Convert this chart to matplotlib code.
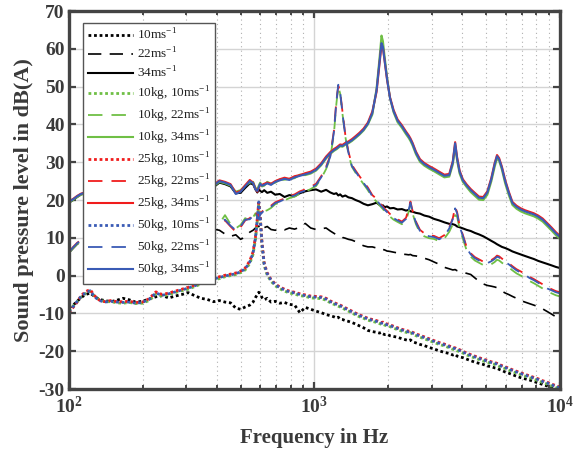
import numpy as np
import matplotlib
matplotlib.use('Agg')
import matplotlib.pyplot as plt
from matplotlib.ticker import FixedLocator, NullFormatter

# frequency bins (Hz)
freq = [100, 104, 108, 112, 117, 122, 127, 133, 140, 148, 157, 166, 176, 187, 199, 212,
        226, 240, 255, 271, 288, 306, 325, 345, 366, 388,
        410, 432, 455, 478, 500, 522, 545, 562, 575, 585, 593, 601, 611, 624, 642, 665,
        692, 722, 755, 790, 830, 872, 917, 965,
        1015, 1065, 1115, 1160, 1200, 1228, 1250, 1272, 1300, 1335, 1375, 1420, 1470, 1525,
        1585, 1650, 1720, 1790, 1840, 1875, 1900, 1930, 1975, 2030, 2100, 2180, 2270, 2360,
        2420, 2460, 2510, 2590, 2690, 2800, 2930, 3070, 3220, 3380, 3540, 3660, 3740, 3810,
        3900, 4020, 4170, 4330, 4500, 4680, 4870, 5060, 5250, 5420, 5540, 5650, 5800, 5980,
        6180, 6400, 6650, 6920, 7200, 7500, 7820, 8150, 8500, 8870, 9250, 9620, 10000]

# no load, dB(A)
spl_10 = [-8.5, -7.8, -6.8, -5.8, -5.0, -4.6, -5.5, -6.3, -6.6, -6.9, -6.5, -6.0, -6.4, -7.0, -6.8, -6.2,
          -5.6, -5.3, -5.9, -5.4, -5.0, -4.5, -5.3, -6.0, -6.3, -6.9,
          -6.6, -7.0, -7.2, -8.6, -8.9, -8.3, -7.8, -7.0, -5.8, -5.0, -4.4, -4.8, -5.8, -6.4, -6.0, -7.0,
          -6.8, -7.3, -7.1, -7.6, -7.8, -9.8, -8.4, -8.9,
          -9.4, -9.8, -10.3, -10.6, -10.9, -11.2, -11.0, -11.5, -11.6, -11.9, -12.1, -12.4, -12.8, -13.3,
          -13.8, -14.5, -14.8, -15.0, -15.2, -15.0, -15.4, -15.6, -15.5, -15.9, -16.1, -16.3, -16.7, -17.0,
          -17.2, -17.0, -17.5, -17.8, -18.2, -18.5, -19.0, -19.4, -19.9, -20.3, -20.6, -21.0, -20.8, -21.3,
          -21.5, -21.7, -22.1, -22.5, -22.9, -23.2, -23.5, -23.9, -24.1, -24.4, -24.5, -24.8, -25.1, -25.5,
          -25.8, -26.2, -26.6, -27.0, -27.3, -27.6, -28.0, -28.4, -28.8, -29.2, -29.6, -29.9, -30.3]

spl_22 = [6.0, 7.2, 8.3, 9.0, 9.4, 9.8, 9.6, 10.0, 10.4, 10.1, 10.6, 11.0, 10.7, 11.2, 11.5, 11.3,
          11.8, 12.0, 11.6, 12.2, 12.5, 12.0, 12.4, 12.0, 12.5, 12.3,
          12.0, 11.0, 10.4, 10.8, 9.6, 10.2, 11.5, 12.0, 12.6, 13.2, 13.0, 12.6, 13.4, 12.7, 13.0, 12.2,
          12.0, 12.4, 12.1, 12.6, 12.3, 12.8, 13.8, 12.6,
          12.2, 12.4, 12.6, 11.8, 11.2, 10.8, 10.5, 10.6, 10.1, 9.9, 9.6, 9.4, 9.0, 8.4,
          7.9, 7.6, 7.6, 7.3, 7.1, 7.2, 6.9, 6.8, 6.5, 6.4, 6.2, 6.0, 5.7, 5.6,
          5.5, 5.6, 5.3, 5.2, 5.0, 4.6, 4.2, 3.6, 3.0, 2.2, 1.8, 1.5, 1.6, 1.3,
          1.1, 0.9, 0.6, 0.3, -0.6, -1.5, -2.2, -2.6, -2.8, -3.0, -3.2, -3.6, -4.1, -4.6,
          -5.0, -5.5, -6.0, -6.6, -7.0, -7.4, -7.8, -8.2, -8.8, -9.5, -10.2, -10.9, -11.6]

spl_34 = [19.3, 20.0, 20.8, 21.5, 21.8, 22.4, 22.0, 22.6, 23.0, 22.6, 23.2, 23.5, 23.0, 23.6, 23.9, 23.4,
          23.8, 24.2, 23.7, 24.0, 24.4, 23.8, 24.3, 24.0, 23.6, 23.4,
          24.6, 24.2, 23.6, 21.8, 21.9, 23.2, 24.4, 24.2, 22.8, 22.0, 22.8, 22.4, 22.1, 22.6, 21.9, 22.2,
          21.4, 21.6, 20.8, 21.3, 21.0, 21.8, 22.3, 22.6,
          22.8, 22.2, 22.7, 22.0, 21.6, 21.8, 21.2, 21.5, 20.9, 21.2, 20.7, 20.5, 20.0, 19.6,
          19.0, 18.6, 18.9, 19.3, 18.7, 18.4, 18.6, 18.1, 18.3, 17.8, 17.9, 17.5, 17.6, 17.2,
          17.4, 17.0, 16.9, 16.6, 16.4, 15.9, 15.6, 15.0, 14.6, 14.1, 13.7, 13.6, 13.4, 13.0,
          12.8, 12.5, 12.1, 11.8, 11.3, 10.9, 10.4, 9.8, 9.2, 8.7, 8.3, 8.0, 7.6, 7.3,
          6.9, 6.4, 6.0, 5.6, 5.2, 4.8, 4.4, 3.9, 3.5, 3.1, 2.7, 2.3, 2.0]

# 10 kg load
spl_10kg_10 = [-9.4, -8.0, -6.9, -5.7, -4.7, -4.2, -5.4, -6.4, -6.9, -6.9, -7.2, -7.3, -7.1, -7.4, -7.3, -6.6,
               -4.9, -5.4, -5.0, -4.5, -4.0, -3.6, -2.9, -2.2, -1.7, -1.1,
               -0.8, -0.3, 0.0, 0.3, 0.8, 1.5, 3.2, 5.6, 9.6, 14.6, 19.0, 15.0, 8.2, 2.6, 0.1, -1.5,
               -2.7, -3.5, -4.1, -4.6, -4.9, -5.3, -5.5, -5.9,
               -6.0, -6.1, -6.5, -7.2, -7.6, -7.9, -8.1, -8.3, -8.6, -9.0, -9.4, -9.9, -10.4, -10.9,
               -11.3, -11.8, -12.1, -12.4, -12.7, -12.9, -12.8, -13.1, -13.3, -13.5, -13.9, -14.3, -14.7, -15.0,
               -15.2, -15.1, -15.5, -15.9, -16.3, -16.7, -17.2, -17.7, -18.2, -18.6, -19.1, -19.5, -19.6, -19.9,
               -20.1, -20.5, -21.0, -21.4, -21.8, -22.2, -22.6, -22.9, -23.3, -23.5, -23.7, -24.0, -24.3, -24.6,
               -25.0, -25.4, -25.8, -26.2, -26.6, -27.0, -27.4, -27.8, -28.3, -28.7, -29.2, -29.6, -30.0]

spl_10kg_22 = [6.0, 7.3, 8.4, 9.1, 9.4, 9.8, 9.6, 10.1, 10.4, 10.2, 10.7, 11.0, 10.8, 11.3, 11.6, 11.4,
               11.9, 12.1, 11.8, 12.3, 12.6, 12.2, 12.6, 12.4, 12.8, 13.0,
               13.8, 16.0, 13.6, 12.5, 13.4, 15.2, 14.6, 15.4, 16.5, 15.3, 14.7, 15.9, 16.3, 17.0, 17.3, 17.9,
               18.9, 19.3, 19.9, 20.5, 20.9, 21.7, 22.2, 22.9,
               23.7, 25.7, 28.2, 31.2, 37.6, 45.5, 50.0, 48.2, 42.8, 36.8, 32.2, 28.8, 27.2, 25.7,
               24.2, 22.6, 20.6, 19.6, 18.6, 18.0, 17.6, 17.0, 16.4, 15.6, 14.8, 14.2, 13.6, 14.5,
               17.0, 18.8, 16.4, 13.6, 11.3, 10.4, 9.9, 9.7, 9.1, 9.8, 11.6, 13.6, 16.0, 15.6,
               12.4, 9.8, 6.6, 5.0, 4.0, 3.4, 2.8, 2.6, 3.0, 3.6, 4.2, 4.0, 3.4, 2.8,
               2.2, 1.4, 0.6, 0.0, -0.6, -1.4, -2.0, -2.7, -3.4, -4.2, -4.7, -5.2, -5.5]

spl_10kg_34 = [19.3, 20.0, 20.8, 21.4, 21.8, 22.3, 22.0, 22.6, 23.0, 22.6, 23.2, 23.5, 23.0, 23.6, 23.9, 23.4,
               23.8, 24.2, 23.7, 24.0, 24.4, 23.8, 24.3, 24.0, 23.6, 23.6,
               24.8, 24.4, 23.8, 22.2, 22.6, 23.8, 24.6, 24.8, 23.2, 22.8, 23.8, 24.6, 23.6, 23.8, 24.8, 24.3,
               24.6, 25.4, 25.4, 25.6, 25.8, 26.7, 26.6, 27.0,
               27.8, 29.2, 31.0, 32.2, 33.0, 33.4, 33.8, 34.2, 34.1, 34.6, 35.0, 35.6, 36.4, 37.3,
               38.4, 40.0, 42.6, 49.5, 57.5, 63.5, 62.0, 58.0, 52.5, 47.0, 43.2, 40.6, 39.1, 37.4,
               36.4, 35.6, 34.4, 32.1, 30.1, 29.1, 28.3, 27.6, 26.8, 26.0, 26.2, 29.4, 34.3, 30.4,
               27.0, 24.8, 23.4, 22.1, 21.1, 20.1, 20.0, 21.4, 24.9, 28.8, 31.0, 30.4, 28.0, 24.4,
               21.4, 18.7, 17.7, 17.0, 16.5, 16.1, 15.7, 15.1, 14.3, 13.1, 11.9, 10.7, 9.7]

# 25 kg load
spl_25kg_10 = [-9.8, -8.4, -7.0, -5.3, -4.2, -3.7, -5.3, -6.5, -6.9, -6.6, -6.9, -6.9, -6.8, -7.1, -7.0, -6.1,
               -4.3, -5.0, -4.6, -4.1, -3.6, -3.1, -2.5, -1.8, -1.2, -0.7,
               -0.3, 0.1, 0.4, 0.7, 1.2, 2.0, 3.9, 6.3, 10.3, 15.2, 19.3, 15.8, 8.8, 3.3, 0.7, -1.0,
               -2.2, -3.0, -3.6, -4.1, -4.4, -4.8, -5.1, -5.4,
               -5.5, -5.6, -6.0, -6.7, -7.1, -7.4, -7.6, -7.8, -8.1, -8.5, -8.9, -9.4, -9.9, -10.4,
               -10.8, -11.3, -11.6, -11.9, -12.2, -12.4, -12.3, -12.6, -12.8, -13.0, -13.4, -13.8, -14.2, -14.5,
               -14.7, -14.6, -15.0, -15.4, -15.8, -16.2, -16.7, -17.2, -17.7, -18.1, -18.6, -19.0, -19.1, -19.4,
               -19.6, -20.0, -20.5, -20.9, -21.3, -21.7, -22.1, -22.4, -22.8, -23.0, -23.2, -23.5, -23.8, -24.1,
               -24.5, -24.9, -25.3, -25.7, -26.1, -26.5, -26.9, -27.3, -27.8, -28.2, -28.7, -29.1, -29.5]

spl_25kg_22 = [6.3, 7.6, 8.7, 9.4, 9.7, 10.1, 9.9, 10.4, 10.7, 10.5, 11.0, 11.3, 11.1, 11.6, 11.9, 11.7,
               12.2, 12.4, 12.1, 12.6, 12.9, 12.5, 12.9, 12.7, 13.1, 13.4,
               14.4, 14.6, 13.0, 11.6, 12.8, 14.6, 15.2, 16.1, 17.0, 15.9, 15.3, 16.4, 16.9, 17.5, 17.9, 18.5,
               19.4, 19.9, 20.4, 21.0, 21.5, 22.3, 22.8, 23.5,
               24.3, 26.3, 28.8, 31.8, 38.4, 46.3, 50.2, 48.8, 43.4, 37.3, 32.8, 29.3, 27.8, 26.3,
               24.8, 23.3, 21.3, 20.3, 19.3, 18.7, 18.3, 17.7, 17.1, 16.3, 15.5, 14.9, 14.3, 15.3,
               17.8, 19.6, 17.1, 14.3, 12.1, 11.2, 10.7, 10.5, 9.9, 10.7, 12.8, 15.2, 18.2, 16.8,
               13.3, 10.8, 7.5, 5.9, 4.9, 4.3, 3.7, 3.6, 4.1, 4.7, 5.3, 5.1, 4.5, 3.9,
               3.3, 2.5, 1.7, 1.1, 0.5, -0.3, -0.9, -1.6, -2.3, -3.1, -3.6, -4.1, -4.4]

spl_25kg_34 = [19.6, 20.3, 21.1, 21.7, 22.1, 22.6, 22.3, 22.9, 23.3, 22.9, 23.5, 23.8, 23.3, 23.9, 24.2, 23.7,
               24.1, 24.5, 24.0, 24.3, 24.7, 24.1, 24.6, 24.3, 23.9, 24.0,
               25.2, 24.8, 24.2, 21.9, 22.4, 23.9, 25.3, 24.6, 23.0, 22.2, 23.2, 24.0, 24.0, 24.3, 24.6, 24.3,
               25.0, 25.5, 25.9, 25.6, 26.3, 26.6, 27.1, 27.5,
               28.3, 29.7, 31.5, 32.7, 33.5, 33.9, 34.3, 34.7, 34.6, 35.1, 35.5, 36.1, 36.9, 37.8,
               38.9, 40.5, 43.4, 48.6, 56.0, 61.0, 60.2, 56.8, 51.8, 47.2, 43.8, 41.3, 39.8, 38.1,
               37.1, 36.3, 35.1, 32.8, 30.8, 29.8, 29.0, 28.3, 27.5, 26.7, 26.9, 30.3, 35.3, 31.3,
               27.8, 25.5, 24.1, 22.9, 21.9, 20.9, 20.8, 22.3, 25.8, 29.8, 31.9, 31.1, 28.8, 25.3,
               22.3, 19.5, 18.5, 17.8, 17.3, 16.9, 16.5, 15.9, 15.1, 13.9, 12.7, 11.5, 10.5]

# 50 kg load
spl_50kg_10 = [-9.6, -8.2, -6.8, -5.5, -4.5, -4.0, -5.6, -6.6, -7.0, -6.8, -7.0, -7.1, -7.0, -7.3, -7.1, -6.3,
               -4.6, -5.2, -4.8, -4.3, -3.8, -3.3, -2.7, -2.0, -1.4, -0.9,
               -0.5, -0.1, 0.2, 0.5, 1.0, 1.8, 3.6, 6.0, 10.0, 15.0, 19.5, 15.5, 8.5, 3.0, 0.5, -1.2,
               -2.4, -3.2, -3.8, -4.3, -4.6, -5.0, -5.3, -5.6,
               -5.7, -5.8, -6.2, -6.9, -7.3, -7.6, -7.8, -8.0, -8.3, -8.7, -9.1, -9.6, -10.1, -10.6,
               -11.0, -11.5, -11.8, -12.1, -12.4, -12.6, -12.5, -12.8, -13.0, -13.2, -13.6, -14.0, -14.4, -14.7,
               -14.9, -14.8, -15.2, -15.6, -16.0, -16.4, -16.9, -17.4, -17.9, -18.3, -18.8, -19.2, -19.3, -19.6,
               -19.8, -20.2, -20.7, -21.1, -21.5, -21.9, -22.3, -22.6, -23.0, -23.2, -23.4, -23.7, -24.0, -24.3,
               -24.7, -25.1, -25.5, -25.9, -26.3, -26.7, -27.1, -27.5, -28.0, -28.4, -28.9, -29.3, -29.7]

spl_50kg_22 = [6.2, 7.5, 8.6, 9.3, 9.6, 10.0, 9.8, 10.3, 10.6, 10.4, 10.9, 11.2, 11.0, 11.5, 11.8, 11.6,
               12.1, 12.3, 12.0, 12.5, 12.8, 12.4, 12.8, 12.6, 13.0, 13.2,
               14.2, 14.8, 13.2, 12.0, 13.0, 14.8, 14.9, 15.8, 16.8, 15.6, 15.0, 16.2, 16.6, 17.3, 17.6, 18.2,
               19.2, 19.6, 20.2, 20.8, 21.2, 22.0, 22.5, 23.2,
               24.0, 26.0, 28.5, 31.5, 38.0, 46.0, 50.5, 48.5, 43.0, 37.0, 32.5, 29.0, 27.5, 26.0,
               24.5, 23.0, 21.0, 20.0, 19.0, 18.4, 18.0, 17.4, 16.8, 16.0, 15.2, 14.6, 14.0, 15.0,
               17.5, 19.3, 16.8, 14.0, 11.8, 10.9, 10.4, 10.2, 9.6, 10.4, 12.5, 15.0, 17.8, 16.5,
               13.0, 10.5, 7.2, 5.6, 4.6, 4.0, 3.4, 3.3, 3.8, 4.4, 5.0, 4.8, 4.2, 3.6,
               3.0, 2.2, 1.4, 0.8, 0.2, -0.6, -1.2, -1.9, -2.6, -3.4, -3.9, -4.4, -4.7]

spl_50kg_34 = [19.5, 20.2, 21.0, 21.6, 22.0, 22.5, 22.2, 22.8, 23.2, 22.8, 23.4, 23.7, 23.2, 23.8, 24.1, 23.6,
               24.0, 24.4, 23.9, 24.2, 24.6, 24.0, 24.5, 24.2, 23.8, 23.8,
               25.0, 24.6, 24.0, 21.6, 22.2, 23.6, 25.0, 24.5, 22.8, 22.4, 23.4, 24.3, 23.8, 24.0, 24.4, 24.0,
               24.8, 25.2, 25.6, 25.3, 26.0, 26.4, 26.8, 27.2,
               28.0, 29.4, 31.2, 32.4, 33.2, 33.6, 34.0, 34.4, 34.3, 34.8, 35.2, 35.8, 36.6, 37.5,
               38.6, 40.2, 43.0, 49.0, 56.5, 61.5, 60.5, 57.0, 52.0, 47.0, 43.5, 41.0, 39.5, 37.8,
               36.8, 36.0, 34.8, 32.5, 30.5, 29.5, 28.7, 28.0, 27.2, 26.4, 26.6, 30.0, 35.0, 31.0,
               27.5, 25.2, 23.8, 22.6, 21.6, 20.6, 20.5, 22.0, 25.5, 29.5, 31.6, 30.8, 28.5, 25.0,
               22.0, 19.2, 18.2, 17.5, 17.0, 16.6, 16.2, 15.6, 14.8, 13.6, 12.4, 11.2, 10.2]

sup = r'ms$^{\mathrm{-1}}$'
green = '#6fbf45'
red = '#f01c1c'
blue = '#3a5bb5'
dot = (0, (1, 1))
dash = (0, (8, 5))

plt.rcParams['font.family'] = 'Liberation Serif'
plt.rcParams['mathtext.fontset'] = 'custom'
plt.rcParams['mathtext.rm'] = 'Liberation Serif'
plt.rcParams['mathtext.bf'] = 'Liberation Serif:bold'
plt.rcParams['axes.unicode_minus'] = False

fig = plt.figure(figsize=(5.73, 4.55), dpi=100)
ax = fig.add_axes([0.1204, 0.145, 0.8569, 0.8308])

ax.plot(freq, spl_10, color='k', ls=dot, lw=2.0, label='10' + sup)
ax.plot(freq, spl_22, color='k', ls=dash, lw=1.2, label='22' + sup)
ax.plot(freq, spl_34, color='k', ls='-', lw=1.5, label='34' + sup)

for mass, c, s10, s22, s34 in [('10kg', green, spl_10kg_10, spl_10kg_22, spl_10kg_34),
                               ('25kg', red, spl_25kg_10, spl_25kg_22, spl_25kg_34),
                               ('50kg', blue, spl_50kg_10, spl_50kg_22, spl_50kg_34)]:
    ax.plot(freq, s10, color=c, ls=dot, lw=2.0, label=mass + ', 10' + sup)
    ax.plot(freq, s22, color=c, ls=dash, lw=1.3, label=mass + ', 22' + sup)
    ax.plot(freq, s34, color=c, ls='-', lw=1.5, label=mass + ', 34' + sup)

ax.set_xscale('log')
ax.set_xlim(100, 10000)
ax.set_ylim(-30, 70)
ax.set_yticks(np.arange(-30, 71, 10))
ax.set_xticks([100, 1000, 10000])
ax.set_xticklabels([r'$\mathbf{10^{2}}$', r'$\mathbf{10^{3}}$', r'$\mathbf{10^{4}}$'])
minors = [m * d for d in (100, 1000) for m in range(2, 10)]
ax.xaxis.set_minor_locator(FixedLocator(minors))
ax.xaxis.set_minor_formatter(NullFormatter())

ax.set_axisbelow(True)
ax.grid(True, which='major', color='#d4d4d4', lw=1.0, ls='-')
ax.grid(True, which='minor', axis='x', color='#b0b0b0', lw=0.8, ls=(0, (1, 3)))

txt = '#3a3a3a'
for sp in ax.spines.values():
    sp.set_linewidth(2.4)
    sp.set_color('#444444')
ax.tick_params(which='both', direction='in', top=True, right=True, colors='#444444',
               labelcolor=txt, labelsize=14)
ax.tick_params(which='major', length=5, width=1.6)
ax.tick_params(which='minor', length=3, width=1.4)
for lab in ax.get_yticklabels():
    lab.set_fontweight('bold')
ax.tick_params(axis='x', pad=5)
ax.tick_params(axis='y', pad=3)

ax.set_xlabel('Frequency in Hz', fontsize=15, fontweight='bold', color=txt, labelpad=8)
ax.set_ylabel('Sound pressure level in dB(A)', fontsize=16, fontweight='bold', color=txt,
              labelpad=3)

leg = ax.legend(loc='upper left', bbox_to_anchor=(0.029, 0.968), fontsize=9.5,
                handlelength=3.4, handletextpad=0.35, labelspacing=0.28,
                borderpad=0.35, borderaxespad=0.0, fancybox=False, framealpha=1)
leg.get_frame().set_edgecolor('#555555')
leg.get_frame().set_linewidth(1.0)
for t in leg.get_texts():
    t.set_color('#222222')

fig.savefig('out.png', dpi=100)
